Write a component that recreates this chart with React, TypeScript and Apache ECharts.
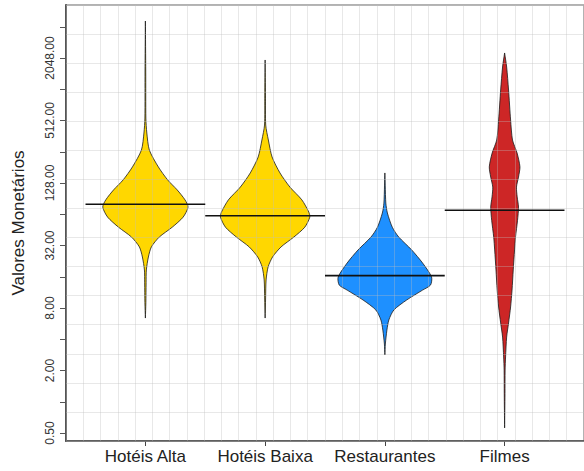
import React, { useEffect, useRef } from "react";
import * as echarts from "echarts";

const categories = ["Hotéis Alta", "Hotéis Baixa", "Restaurantes", "Filmes"];
const fillColors = ["#FFD700", "#FFD700", "#1E90FF", "#CD2626"];
const means = [80, 62, 16.4, 70];

// density profiles: [monetary value, half width in category units]
const hoteisAlta = [
  [6.4, 0], [9, 0.004], [14, 0.006], [18.6, 0.008], [24.8, 0.025], [31, 0.05],
  [38.6, 0.116], [48, 0.224], [60, 0.315], [75, 0.356], [88, 0.331], [110, 0.265],
  [137, 0.186], [183, 0.108], [266, 0.033], [388, 0.012], [541, 0.004], [1500, 0.003], [4650, 0],
];
const hoteisBaixa = [
  [6.4, 0], [10, 0.004], [14.9, 0.008], [19.9, 0.025], [24.8, 0.062], [31, 0.133],
  [38.6, 0.24], [48, 0.331], [60, 0.373], [67, 0.365], [88, 0.307], [117, 0.207],
  [160, 0.124], [228, 0.058], [332, 0.027], [463, 0.005], [900, 0.003], [1960, 0],
];
const restaurantes = [
  [2.82, 0], [3.6, 0.004], [4.9, 0.017], [6.13, 0.033], [7.65, 0.075], [9.55, 0.182],
  [11.9, 0.315], [13.3, 0.381], [15.9, 0.39], [21.7, 0.315], [29, 0.224], [38.6, 0.116],
  [48, 0.062], [65.8, 0.021], [82, 0.008], [120, 0.003], [160, 0],
];
const filmes = [
  [0.56, 0], [1.2, 0.003], [2.02, 0.004], [2.7, 0.008], [4.2, 0.017], [5.74, 0.033],
  [8.18, 0.05], [11.9, 0.062], [18.6, 0.072], [29, 0.083], [38.6, 0.091], [56, 0.108],
  [75, 0.116], [94, 0.105], [117, 0.099], [146, 0.116], [183, 0.128], [249, 0.104],
  [332, 0.066], [518, 0.05], [1007, 0.033], [1677, 0.017], [2290, 0],
];
const profiles = [hoteisAlta, hoteisBaixa, restaurantes, filmes];

const yTickExponents = [-1, 0, 1, 2, 3, 4, 5, 6, 7, 8, 9, 10, 11, 12];
const yLabelExponents = [-1, 1, 3, 5, 7, 9, 11];
const xPositions = [1, 2, 3, 4];

const FONT = "'Liberation Sans', Arial, Helvetica, sans-serif";

export default function App() {
  const ref = useRef<HTMLDivElement>(null);
  useEffect(() => {
    if (!ref.current) return;
    const chart = echarts.init(ref.current, undefined, { renderer: "svg" });
    chart.setOption({
      animation: false,
      backgroundColor: "#ffffff",
      textStyle: { fontFamily: FONT },
      grid: {
        left: 66,
        right: -4,
        top: 5,
        bottom: 30,
        show: true,
        borderColor: "#999999",
        borderWidth: 1.5,
        backgroundColor: "transparent",
      },
      xAxis: [
        {
          type: "value",
          min: 0.337,
          max: 4.663,
          position: "bottom",
          axisLine: { show: true, onZero: false, lineStyle: { color: "#444", width: 1.5 } },
          axisTick: { show: true, customValues: xPositions, length: 5, lineStyle: { color: "#444", width: 1 } },
          axisLabel: {
            customValues: xPositions,
            formatter: (v: number) => categories[Math.round(v) - 1] ?? "",
            fontSize: 17,
            color: "#222",
            margin: 7,
            fontFamily: FONT,
          },
          splitLine: { show: false },
        },
        {
          type: "value",
          min: 0,
          max: 30,
          interval: 1,
          position: "top",
          axisLine: { show: false },
          axisTick: { show: false },
          axisLabel: { show: false },
          splitLine: { show: true, lineStyle: { color: "rgba(190,190,190,0.35)", width: 1 } },
          z: 10,
        },
      ],
      yAxis: [
        {
          type: "value",
          min: -1.256,
          max: 12.696,
          position: "left",
          name: "Valores Monetários",
          nameLocation: "middle",
          nameGap: 39,
          nameTextStyle: { fontSize: 17, color: "#222", fontFamily: FONT },
          axisLine: { show: true, onZero: false, lineStyle: { color: "#555", width: 2 } },
          axisTick: { show: true, customValues: yTickExponents, length: 6, lineStyle: { color: "#555", width: 1 } },
          axisLabel: {
            customValues: yLabelExponents,
            rotate: 90,
            formatter: (v: number) => Math.pow(2, v).toFixed(2),
            fontSize: 12,
            color: "#333",
            margin: 10,
            fontFamily: FONT,
          },
          splitLine: { show: false },
        },
        {
          type: "value",
          min: 0,
          max: 15,
          interval: 1,
          position: "right",
          axisLine: { show: false },
          axisTick: { show: false },
          axisLabel: { show: false },
          splitLine: { show: true, lineStyle: { color: "rgba(190,190,190,0.35)", width: 1 } },
          z: 10,
        },
      ],
      series: [
        {
          type: "custom",
          xAxisIndex: 0,
          yAxisIndex: 0,
          z: 2,
          data: categories.map((_, i) => [i + 1, Math.log2(means[i])]),
          encode: { x: 0, y: 1 },
          renderItem: (params: any, api: any) => {
            const i = params.dataIndex;
            const prof = profiles[i];
            const c = i + 1;
            const right = prof.map(([v, w]) => api.coord([c + w, Math.log2(v)]));
            const left = prof
              .slice()
              .reverse()
              .map(([v, w]) => api.coord([c - w, Math.log2(v)]));
            return {
              type: "polygon",
              shape: { points: right.concat(left), smooth: 0.25 },
              style: { fill: fillColors[i], stroke: "#1a1a1a", lineWidth: 0.8 },
            };
          },
        },
        {
          type: "custom",
          xAxisIndex: 0,
          yAxisIndex: 0,
          z: 20,
          data: categories.map((_, i) => [i + 1, Math.log2(means[i])]),
          encode: { x: 0, y: 1 },
          renderItem: (params: any, api: any) => {
            const c = api.value(0);
            const y = api.value(1);
            const p1 = api.coord([c - 0.5, y]);
            const p2 = api.coord([c + 0.5, y]);
            return {
              type: "line",
              shape: { x1: p1[0], y1: p1[1], x2: p2[0], y2: p2[1] },
              style: { stroke: "#111", lineWidth: 1.6 },
            };
          },
        },
      ],
    });
    return () => chart.dispose();
  }, []);
  return (
    <div
      ref={ref}
      style={{ position: "fixed", left: 0, top: 0, width: 584, height: 471 }}
    />
  );
}
